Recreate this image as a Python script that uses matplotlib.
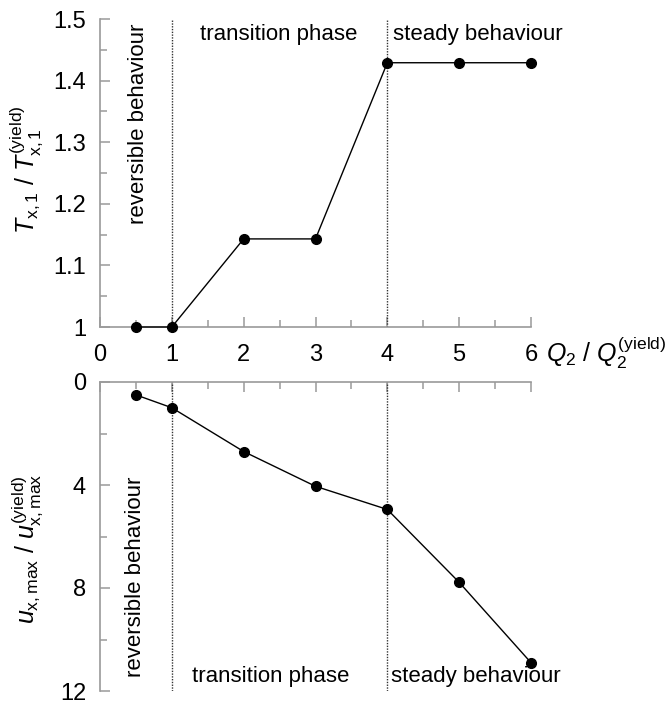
import matplotlib
matplotlib.use('Agg')
import matplotlib.pyplot as plt
from matplotlib.ticker import MultipleLocator, FuncFormatter

# load ratio Q2 / Q2(yield)
q_ratio = [0.5, 1, 2, 3, 4, 5, 6]
# shear force ratio T_x,1 / T_x,1(yield)
t_ratio = [1.0, 1.0, 1.143, 1.143, 1.429, 1.429, 1.429]
# max displacement ratio u_x,max / u_x,max(yield)
u_ratio = [0.5, 1.0, 2.7, 4.05, 4.95, 7.78, 10.9]
# phase boundaries
phase_bounds = [1, 4]

plt.rcParams['font.family'] = ['Liberation Sans', 'DejaVu Sans']
plt.rcParams['mathtext.fontset'] = 'custom'
plt.rcParams['mathtext.rm'] = 'Liberation Sans'
plt.rcParams['mathtext.it'] = 'Liberation Sans:italic'
plt.rcParams['font.size'] = 16
plt.rcParams['xtick.labelsize'] = 17
plt.rcParams['ytick.labelsize'] = 17

W, H = 670, 703
fig = plt.figure(figsize=(W / 100, H / 100), dpi=100)

def px(left, top, right, bottom):
    return [left / W, 1 - bottom / H, (right - left) / W, (bottom - top) / H]

ax1 = fig.add_axes(px(100, 19, 531, 327))
ax2 = fig.add_axes(px(100, 382, 531, 691))

spine_col = '#9a9a9a'

def style(ax, side):
    for s in ['top', 'bottom', 'left', 'right']:
        ax.spines[s].set_visible(False)
    for s in ['left', side]:
        ax.spines[s].set_visible(True)
        ax.spines[s].set_color(spine_col)
        ax.spines[s].set_linewidth(1.2)
    ax.tick_params(which='both', direction='in', color=spine_col, width=1.1)
    ax.tick_params(which='major', length=7)
    ax.tick_params(which='minor', length=5)
    ax.set_xlim(0, 6)
    ax.xaxis.set_major_locator(MultipleLocator(1))
    ax.xaxis.set_minor_locator(MultipleLocator(0.5))

def phases(ax):
    for b in phase_bounds:
        ax.axvline(b, color='#333333', lw=1, ls=(0, (1, 1)), zorder=2)

# upper panel
style(ax1, 'bottom')
ax1.set_ylim(1, 1.5)
ax1.yaxis.set_major_locator(MultipleLocator(0.1))
ax1.yaxis.set_minor_locator(MultipleLocator(0.05))
ax1.yaxis.set_major_formatter(FuncFormatter(lambda v, p: '1' if abs(v - 1) < 1e-9 else f'{v:.1f}'))
ax1.tick_params(axis='y', pad=10)
ax1.tick_params(axis='x', pad=12)
ax1.plot(q_ratio, t_ratio, color='black', lw=1, marker='o', ms=7, clip_on=False, zorder=3)
phases(ax1)
ax1.text(0.53, 1.492, 'reversible behaviour', rotation=90, ha='center', va='top')
ax1.text(1.39, 1.466, 'transition phase', ha='left', va='baseline')
ax1.text(4.08, 1.466, 'steady behaviour', ha='left', va='baseline')
ax1.set_ylabel(r'$T_{\mathrm{x,1}}$ / $T_{\mathrm{x,1}}^{\mathrm{(yield)}}$', fontsize=18)
ax1.yaxis.set_label_coords(-0.128, 0.51)

# lower panel
style(ax2, 'top')
ax2.set_ylim(12, 0)
ax2.yaxis.set_major_locator(MultipleLocator(4))
ax2.yaxis.set_minor_locator(MultipleLocator(2))
ax2.tick_params(axis='x', labelbottom=False, bottom=False, top=True, which='both')
ax2.tick_params(axis='y', pad=10)
ax2.plot(q_ratio, u_ratio, color='black', lw=1, marker='o', ms=7, clip_on=False, zorder=3)
phases(ax2)
ax2.text(0.5, 11.45, 'reversible behaviour', rotation=90, ha='center', va='bottom')
ax2.text(1.28, 11.64, 'transition phase', ha='left', va='baseline')
ax2.text(4.05, 11.64, 'steady behaviour', ha='left', va='baseline')
ax2.set_ylabel(r'$u_{\mathrm{x,max}}$ / $u_{\mathrm{x,max}}^{\mathrm{(yield)}}$', fontsize=18)
ax2.yaxis.set_label_coords(-0.128, 0.46)

fig.text(546 / W, 1 - 362 / H, r'$Q_2$ / $Q_2^{\mathrm{(yield)}}$', fontsize=18, ha='left', va='baseline')

fig.savefig('out.png', dpi=100)
